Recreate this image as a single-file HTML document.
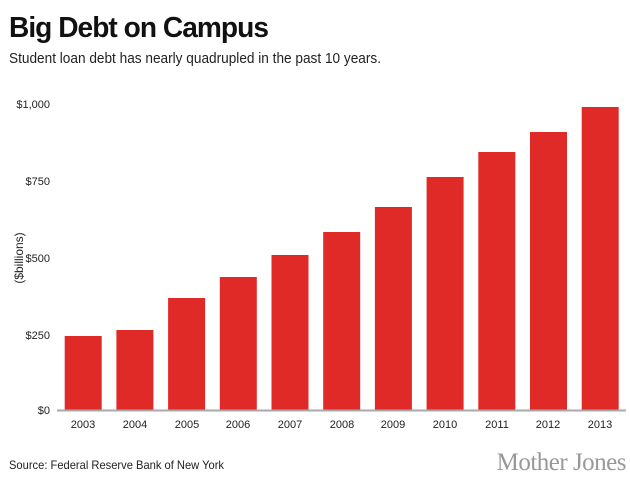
<!DOCTYPE html>
<html><head><style>
body{margin:0;width:630px;height:478px;background:#fff;overflow:hidden;font-family:"Liberation Sans",sans-serif;}
</style></head><body>
<svg width="630" height="478" xmlns="http://www.w3.org/2000/svg">
<text x="9" y="37" font-family="Liberation Sans" font-weight="bold" font-size="29" fill="#111" letter-spacing="-1" textLength="259" lengthAdjust="spacingAndGlyphs">Big Debt on Campus</text>
<text x="9" y="63" font-family="Liberation Sans" font-size="14.5" fill="#222" textLength="372" lengthAdjust="spacingAndGlyphs">Student loan debt has nearly quadrupled in the past 10 years.</text>
<g font-family="Liberation Sans" font-size="11" fill="#222" text-anchor="end">
<text x="50" y="108">$1,000</text>
<text x="50" y="185">$750</text>
<text x="50" y="262">$500</text>
<text x="50" y="339">$250</text>
<text x="50" y="414">$0</text>
</g>
<text transform="translate(23,258) rotate(-90)" text-anchor="middle" font-family="Liberation Sans" font-size="12" fill="#222">($billions)</text>
<g fill="#e02a28">
<rect x="64.7" y="336" width="37" height="74"/>
<rect x="116.4" y="330" width="37" height="80"/>
<rect x="168.1" y="298" width="37" height="112"/>
<rect x="219.8" y="277" width="37" height="133"/>
<rect x="271.5" y="255" width="37" height="155"/>
<rect x="323.2" y="232" width="37" height="178"/>
<rect x="374.9" y="207" width="37" height="203"/>
<rect x="426.6" y="177" width="37" height="233"/>
<rect x="478.3" y="152" width="37" height="258"/>
<rect x="530" y="132" width="37" height="278"/>
<rect x="581.7" y="107" width="37" height="303"/>
</g>
<rect x="57" y="409.5" width="569" height="2" fill="#aaa"/>
<g font-family="Liberation Sans" font-size="11" fill="#222" text-anchor="middle">
<text x="83" y="428">2003</text><text x="135" y="428">2004</text><text x="187" y="428">2005</text>
<text x="238" y="428">2006</text><text x="290" y="428">2007</text><text x="342" y="428">2008</text>
<text x="393" y="428">2009</text><text x="445" y="428">2010</text><text x="497" y="428">2011</text>
<text x="548" y="428">2012</text><text x="600" y="428">2013</text>
</g>
<text x="9" y="469" font-family="Liberation Sans" font-size="12" fill="#222" textLength="215" lengthAdjust="spacingAndGlyphs">Source: Federal Reserve Bank of New York</text>
<text x="626" y="470" text-anchor="end" font-family="Liberation Serif" font-size="25" fill="#999" letter-spacing="-0.5">Mother Jones</text>
</svg>
</body></html>
